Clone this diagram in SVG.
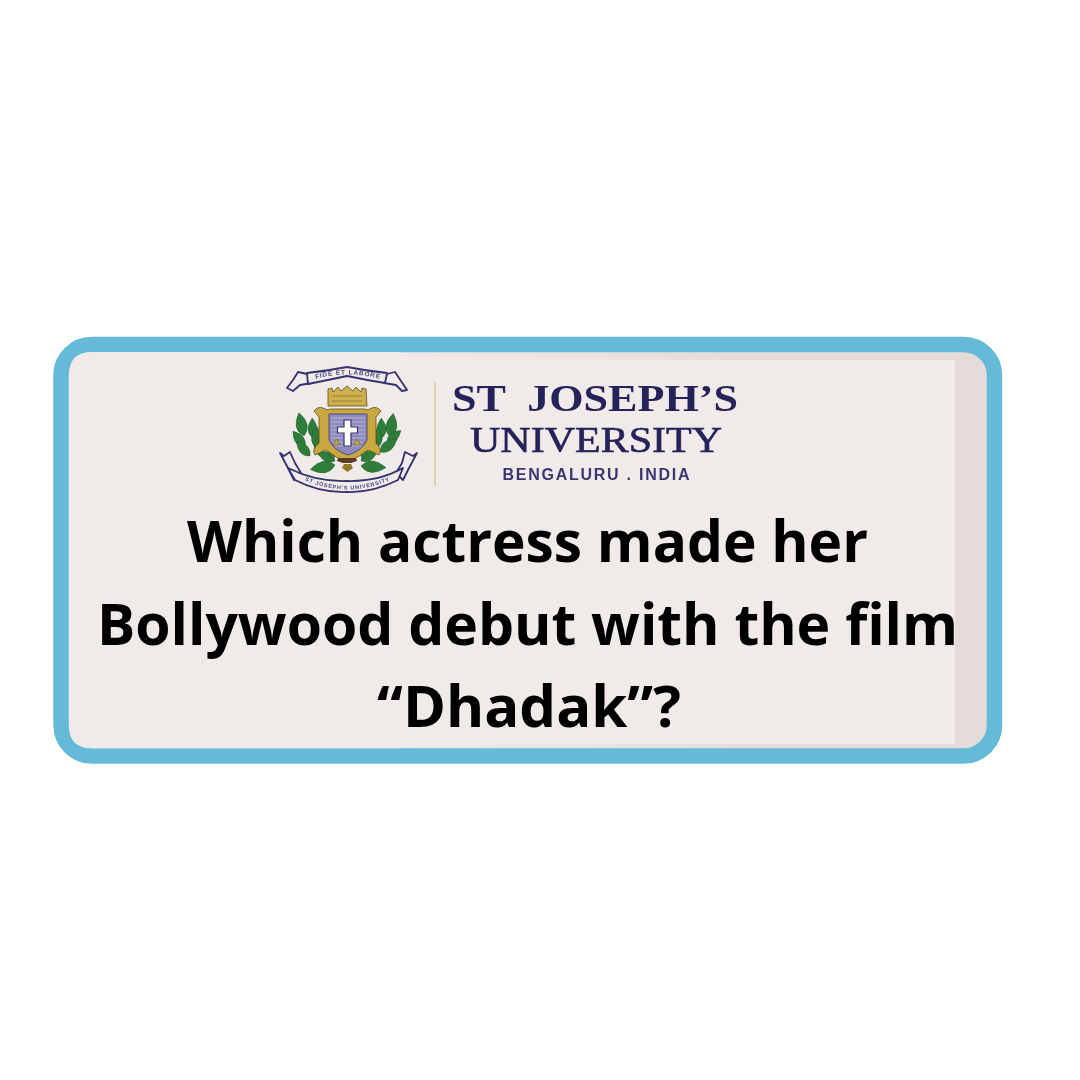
<svg xmlns="http://www.w3.org/2000/svg" width="1080" height="1080" viewBox="0 0 1080 1080">
<style>
.serif{font-family:"Liberation Serif","Times New Roman",serif;fill:#25215a;font-weight:700}
.rib{fill:#f0ebe8;stroke:#35306f;stroke-width:1.800;stroke-linejoin:round}
.tiny{font-family:"Liberation Sans",Arial,sans-serif;fill:#4a4680;font-weight:700;letter-spacing:.8px}
.q{font-family:"Open Sans","Noto Sans",sans-serif;font-weight:700;font-size:57.500px;fill:#000;text-anchor:middle}
.gold{fill:#c9a83f;stroke:#5f4a1e;stroke-width:.8}
</style>
<defs>
<linearGradient id="band" gradientUnits="userSpaceOnUse" x1="400" y1="0" x2="760" y2="0">
<stop offset="0" stop-color="#f0ebe8"/><stop offset="1" stop-color="#e5dcda"/>
</linearGradient>
<filter id="soft" x="-5%" y="-5%" width="110%" height="110%"><feGaussianBlur stdDeviation="0.450"/></filter>
<path id="topArc" d="M309 381 Q347 368 387 381"/>
<path id="botArc" d="M296 476 Q347 503 399 476"/>
<path id="leaf" d="M0 0Q9-12 25-1Q10 11 0 0Z" fill="#2f7d3a" stroke="#1f5a2a" stroke-width=".5"/>
</defs>
<rect width="1080" height="1080" fill="#fff"/>
<g id="card">
<rect x="61" y="344.500" width="933.500" height="411.500" rx="31" fill="url(#band)" stroke="#65bad8" stroke-width="15.500"/>
<path d="M92 352H400V360H955V744H400V748.250H92Q69 748.250 69 726V375Q69 352 92 352Z" fill="#f0ebe8"/>
<rect x="53.250" y="336.750" width="949" height="427" rx="38.750" fill="none" stroke="#65bad8" stroke-width="0"/>
</g>
<g id="crest" filter="url(#soft)">
<path class="rib" d="M287 388 L293 380 L298 372 L307 374 L312 383 L300 385 L293 391 Z"/>
<path class="rib" d="M407 390 L401 381 L395 372 L387 374 L384 383 L396 385 L402 391 Z"/>
<path class="rib" d="M307 373 Q326 371 347 367 Q368 371 387 373 L385 383 Q366 380 347 376 Q328 380 308 384 Z"/>
<text class="tiny" font-size="6.500"><textPath href="#topArc" startOffset="50%" text-anchor="middle">FIDE ET LABORE</textPath></text>
<g id="laurel-left">
<use href="#leaf" transform="translate(304 436) rotate(-100) scale(.95)"/>
<use href="#leaf" transform="translate(313 438) rotate(-90) scale(.8)"/>
<use href="#leaf" transform="translate(305 447) rotate(-125) scale(.8)"/>
<use href="#leaf" transform="translate(316 448) rotate(-85) scale(.85)"/>
<use href="#leaf" transform="translate(310 456) rotate(-130) scale(.8)"/>
<use href="#leaf" transform="translate(320 456) rotate(-95) scale(.8)"/>
<use href="#leaf" transform="translate(335 465) rotate(172)"/>
<use href="#leaf" transform="translate(335 461) rotate(-150) scale(.8)"/>
<use href="#leaf" transform="translate(334 459) rotate(-110) scale(.6)"/>
</g>
<g id="laurel-right">
<use href="#leaf" transform="translate(390 437) rotate(-80) scale(.95)"/>
<use href="#leaf" transform="translate(382 438) rotate(-90) scale(.8)"/>
<use href="#leaf" transform="translate(387 443) rotate(-40) scale(.75)"/>
<use href="#leaf" transform="translate(377 448) rotate(-85) scale(.85)"/>
<use href="#leaf" transform="translate(380 452) rotate(-35) scale(.85)"/>
<use href="#leaf" transform="translate(373 456) rotate(-85) scale(.8)"/>
<use href="#leaf" transform="translate(361 466) rotate(6)"/>
<use href="#leaf" transform="translate(361 461) rotate(-30) scale(.8)"/>
<use href="#leaf" transform="translate(362 459) rotate(-70) scale(.6)"/>
</g>
<path class="gold" d="M328 389 L332 388 L333 392 L338 387 L341 391 L347 386 L353 391 L356 387 L361 392 L362 388 L366 389 L367 406 H328Z" fill-opacity=".9"/>
<path d="M332 396h30M332 401h30" stroke="#8a7430" stroke-width=".8" fill="none"/>
<path class="gold" d="M314 411 Q318 406 323 408 Q327 411 331 409 H364 Q368 411 372 408 Q377 406 381 411 L376 417 L376 443 Q383 450 379 455 L368 450 Q358 458 347 462 Q336 458 326 450 L315 455 Q311 450 319 443 L319 417Z"/>
<path d="M329 414H367V440Q362 451 348 455Q334 451 329 440Z" fill="#8d8bbb" stroke="#4e4a88" stroke-width="1"/>
<path d="M331 418h34M331 422h34M331 426h34M331 430h34M331 434h34M331 438h34M333 442h30M335 446h26" stroke="#b6b5d6" stroke-width="1" fill="none"/>
<path d="M344 420H351V427H357.500V433H351V446H344V433H337.500V427H344Z" fill="#fff" stroke="#35306f" stroke-width="1.200"/>
<path d="M333 445l3.500-6 3.500 6zM353.500 445l3.500-6 3.500 6z" fill="#c9a83f" stroke="#5f4a1e" stroke-width=".5"/>
<path d="M338 458h18l1 3-6 2h-8l-6-2z" fill="#5d3a24"/>
<path d="M344 464h7l2 4-5.500 4-5.500-4z" fill="#8f7a2c"/>
<path class="rib" d="M280 453 L284 456 L290 452 L295 463 L301 473 L294 480 L288 468 Z"/>
<path class="rib" d="M417 453 L413 456 L405 452 L402 463 L396 473 L403 480 L409 468 Z"/>
<path class="rib" d="M288 468 Q316 482 347 481 Q378 482 403 468 L398 480 Q372 493 347 492 Q320 493 295 480 Z"/>
<text class="tiny" font-size="5.500"><textPath href="#botArc" startOffset="50%" text-anchor="middle">ST JOSEPH'S UNIVERSITY</textPath></text>
</g>
<g id="logotype" filter="url(#soft)">
<line x1="435" y1="382" x2="435" y2="486" stroke="#dcc690" stroke-width="1.500"/>
<text class="serif" x="595" y="411" font-size="38.500" text-anchor="middle" textLength="286" lengthAdjust="spacingAndGlyphs" xml:space="preserve">ST  JOSEPH’S</text>
<text class="serif" x="596" y="452" font-size="36" text-anchor="middle" textLength="252" lengthAdjust="spacingAndGlyphs" style="font-weight:400;stroke:#25215a;stroke-width:.6">UNIVERSITY</text>
<text x="596" y="480" font-family="Liberation Sans,Arial,sans-serif" font-weight="700" font-size="16" fill="#3a3670" text-anchor="middle" textLength="187" lengthAdjust="spacing">BENGALURU . INDIA</text>
</g>
<g id="question">
<text class="q" x="527.500" y="562" textLength="681" lengthAdjust="spacingAndGlyphs">Which actress made her</text>
<text class="q" x="527.500" y="644.500" textLength="861" lengthAdjust="spacingAndGlyphs">Bollywood debut with the film</text>
<text class="q" x="529" y="727" textLength="304" lengthAdjust="spacingAndGlyphs">“Dhadak”?</text>
</g>
</svg>
